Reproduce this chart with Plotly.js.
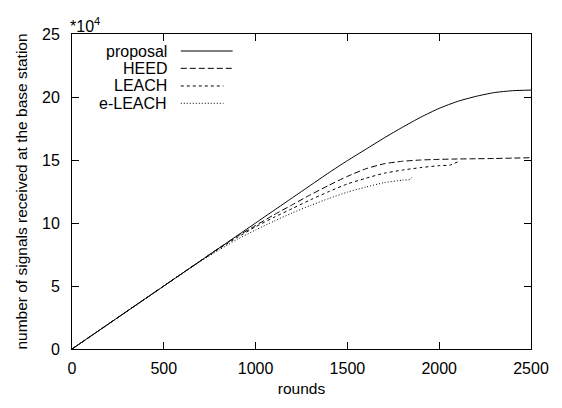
<!DOCTYPE html>
<html>
<head>
<meta charset="utf-8">
<script src="https://cdn.plot.ly/plotly-3.0.1.min.js"></script>
<style>html,body{margin:0;padding:0;background:#fff;}#plot{width:562px;height:408px;}</style>
</head>
<body>
<div id="plot"></div>
<script>
// rounds / values (x 10^4 signals)
var proposalRounds = [0,100,200,300,400,500,600,700,800,900,1000,1100,1200,1300,1400,1500,1600,1700,1800,1900,2000,2100,2200,2300,2400,2500];
var proposalValues = [0,1,2,3,4,5,6,7,8,9,10,11,12,13,14,14.95,15.85,16.75,17.6,18.4,19.1,19.65,20.05,20.35,20.5,20.55];

var heedRounds = [0,100,200,300,400,500,600,700,800,900,1000,1100,1200,1300,1400,1500,1600,1700,1800,1900,2000,2100,2200,2300,2400,2500];
var heedValues = [0,1,2,3,4,5,6,7,8,8.95,9.8,10.65,11.45,12.25,13.0,13.7,14.3,14.7,14.9,15.0,15.05,15.08,15.1,15.12,15.15,15.18];

var leachRounds = [0,100,200,300,400,500,600,700,800,900,1000,1100,1200,1300,1400,1500,1600,1700,1800,1900,2000,2060,2100];
var leachValues = [0,1,2,3,4,5,6,7,7.95,8.85,9.7,10.45,11.15,11.85,12.5,13.1,13.55,13.95,14.2,14.4,14.55,14.6,14.85];

var eleachRounds = [0,100,200,300,400,500,600,700,800,900,1000,1100,1200,1300,1400,1500,1600,1700,1800,1840,1855];
var eleachValues = [0,1,2,3,4,5,6,6.95,7.85,8.7,9.45,10.15,10.8,11.4,11.95,12.45,12.85,13.2,13.4,13.45,13.7];

var seriesNames = ["proposal","HEED","LEACH","e-LEACH"];
var seriesDash = ["solid","6px,3px","3px,3px","1px,2px"];
var xTicks = [0,500,1000,1500,2000,2500];
var yTicks = [0,5,10,15,20,25];

var xs = [proposalRounds, heedRounds, leachRounds, eleachRounds];
var ys = [proposalValues, heedValues, leachValues, eleachValues];

var traces = seriesNames.map(function(n,i){
  return {x: xs[i], y: ys[i], name: n, type: 'scatter', mode: 'lines',
    line: {color: '#000', width: 1, dash: seriesDash[i], shape: 'spline', smoothing: 0.6}};
});

var font = {family: 'Liberation Sans, Arial, sans-serif', size: 16, color: '#000'};
var tfont = {family: 'Liberation Sans, Arial, sans-serif', size: 15.5, color: '#000'};
var annotations = [{xref:'paper', yref:'paper', x:0, y:1, xanchor:'left', yanchor:'bottom',
  text:'*10<sup>4</sup>', showarrow:false, font:font, yshift:-3, xshift:-4}];
var shapes = [];
var legX0 = 0.237, legX1 = 0.35, legYs = [0.946, 0.891, 0.835, 0.78];
seriesNames.forEach(function(n,i){
  annotations.push({xref:'paper', yref:'paper', x:0.212, y:legYs[i], xanchor:'right', yanchor:'middle',
    text:n, showarrow:false, font:font});
  shapes.push({type:'line', xref:'paper', yref:'paper', x0:legX0, x1:(i>=2?0.33:legX1), y0:legYs[i], y1:legYs[i],
    line:{color:'#000', width:1, dash:seriesDash[i]}});
});

var layout = {
  width: 562, height: 408,
  margin: {l: 72, r: 31, t: 34, b: 59},
  paper_bgcolor: '#fff', plot_bgcolor: '#fff',
  showlegend: false,
  font: font,
  xaxis: {range: [0,2500], tickvals: xTicks, ticktext: xTicks.map(String), ticks: 'inside', ticklen: 7,
    tickcolor: '#000', showline: true, linecolor: '#000', linewidth: 1, mirror: 'ticks', showgrid: false,
    zeroline: false, ticklabelstandoff: 5, automargin: false,
    title: {text: 'rounds', font: tfont, standoff: 6}, tickfont: font},
  yaxis: {range: [0,25], tickvals: yTicks, ticktext: yTicks.map(String), ticks: 'inside', ticklen: 7,
    tickcolor: '#000', showline: true, linecolor: '#000', linewidth: 1, mirror: 'ticks', showgrid: false,
    zeroline: false, ticklabelstandoff: 8, automargin: false,
    title: {text: 'number of signals received at the base station', font: tfont, standoff: 10}, tickfont: font},
  annotations: annotations,
  shapes: shapes
};
Plotly.newPlot('plot', traces, layout, {displayModeBar: false, staticPlot: true});
</script>
</body>
</html>
